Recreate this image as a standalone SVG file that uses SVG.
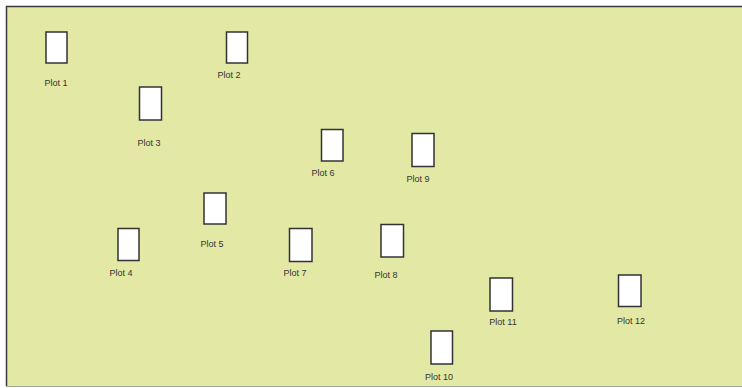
<svg xmlns="http://www.w3.org/2000/svg" width="742" height="388" viewBox="0 0 742 388">
<style>
.bg{fill:#e3e9a5}
.plot rect{fill:#ffffff;stroke:#333333;stroke-width:1.5}
.plot text{font-family:"Liberation Sans",Arial,sans-serif;font-size:9px;fill:#333333;text-anchor:middle}
</style>
<rect x="0" y="0" width="742" height="388" fill="#ffffff"/>
<rect class="bg" x="6" y="6" width="740" height="380"/>
<line x1="6" y1="6.5" x2="742" y2="6.5" stroke="#3a3a3a" stroke-width="1.5"/>
<line x1="6.5" y1="6" x2="6.5" y2="386" stroke="#3a3a3a" stroke-width="1.5"/>
<line x1="6" y1="386.5" x2="742" y2="386.5" stroke="#a0a39a" stroke-width="1"/>
<g id="connectors"></g>
<g id="plot1" class="plot"><rect x="46" y="32" width="21" height="31"/><text x="56" y="86">Plot 1</text></g>
<g id="plot2" class="plot"><rect x="226.5" y="32" width="21" height="31"/><text x="229" y="78">Plot 2</text></g>
<g id="plot3" class="plot"><rect x="139.5" y="87" width="22" height="33"/><text x="149" y="146">Plot 3</text></g>
<g id="plot4" class="plot"><rect x="118" y="228.5" width="21" height="32"/><text x="121" y="276">Plot 4</text></g>
<g id="plot5" class="plot"><rect x="204" y="193" width="22" height="31"/><text x="212" y="247">Plot 5</text></g>
<g id="plot6" class="plot"><rect x="321.5" y="129.5" width="21.5" height="31.5"/><text x="323" y="176">Plot 6</text></g>
<g id="plot7" class="plot"><rect x="289.5" y="228.5" width="22.5" height="33"/><text x="295" y="276">Plot 7</text></g>
<g id="plot8" class="plot"><rect x="381" y="224.5" width="22.5" height="32.5"/><text x="386" y="278">Plot 8</text></g>
<g id="plot9" class="plot"><rect x="412" y="133.5" width="22" height="33"/><text x="418" y="182">Plot 9</text></g>
<g id="plot10" class="plot"><rect x="431" y="331" width="21.5" height="33"/><text x="439" y="380">Plot 10</text></g>
<g id="plot11" class="plot"><rect x="490" y="278" width="22.5" height="33"/><text x="503" y="325">Plot 11</text></g>
<g id="plot12" class="plot"><rect x="618.5" y="275" width="22.5" height="31.5"/><text x="631" y="324">Plot 12</text></g>
</svg>
